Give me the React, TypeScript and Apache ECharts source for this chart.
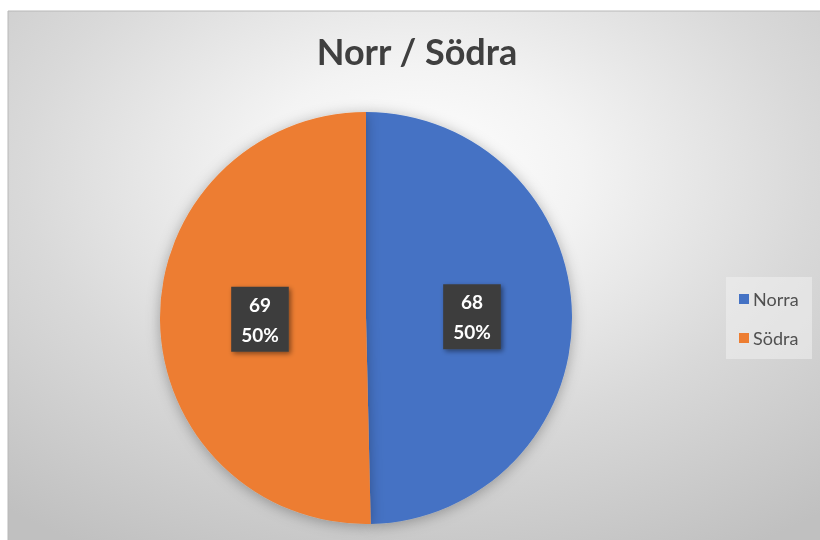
import React, { useEffect, useRef } from "react";
import * as echarts from "echarts";

const categories = ["Norra", "Södra"];
const values = [68, 69];
const colors = ["#4472C4", "#ED7D31"];
const titleText = "Norr / Södra";

export default function App() {
  const ref = useRef<HTMLDivElement>(null);
  useEffect(() => {
    if (!ref.current) return;
    const chart = echarts.init(ref.current, undefined, { renderer: "svg" });
    chart.setOption({
      animation: false,
      graphic: [
        {
          type: "rect",
          z: -10,
          shape: { x: 8, y: 11, width: 820, height: 540 },
          style: {
            fill: new echarts.graphic.RadialGradient(0.5, 0.3, 0.8, [
              { offset: 0, color: "#ffffff" },
              { offset: 0.25, color: "#f3f3f3" },
              { offset: 0.6, color: "#d9d9d9" },
              { offset: 1, color: "#c0c0c0" },
            ]),
            stroke: "#b8b8b8",
            lineWidth: 1,
          },
          silent: true,
        },
        {
          type: "rect",
          z: -5,
          shape: { x: 726, y: 277, width: 86, height: 82 },
          style: { fill: "rgba(240,240,240,0.55)" },
          silent: true,
        },
        {
          type: "text",
          x: 417,
          y: 69,
          style: {
            text: titleText,
            align: "center",
            verticalAlign: "bottom",
            font: "bold 36px Lato",
            fill: "#3f3f3f",
          },
        },
      ],
      legend: {
        orient: "vertical",
        left: 734,
        top: 285,
        itemWidth: 10,
        itemHeight: 10,
        itemGap: 21,
        icon: "rect",
        data: categories,
        textStyle: { color: "#505050", fontSize: 18, fontFamily: "Lato", padding: [0, 0, 0, -1] },
      },
      series: [
        {
          type: "pie",
          center: [366, 318],
          radius: 206,
          startAngle: 90,
          clockwise: true,
          percentPrecision: 0,
          data: categories.map((c, i) => ({
            name: c,
            value: values[i],
            itemStyle: { color: colors[i] },
          })),
          itemStyle: {
            shadowBlur: 14,
            shadowColor: "rgba(0,0,0,0.3)",
            shadowOffsetX: 0,
            shadowOffsetY: 2,
          },
          label: {
            show: true,
            position: "inside",
            formatter: "{c}\n{d}%",
            color: "#ffffff",
            fontFamily: "Lato",
            fontWeight: "bold",
            fontSize: 19,
            lineHeight: 30,
            backgroundColor: "#3d3d3d",
            padding: [3, 10, 2, 10],
            shadowBlur: 5,
            shadowOffsetX: 2,
            shadowOffsetY: 2,
            shadowColor: "rgba(0,0,0,0.45)",
          },
          labelLine: { show: false },
        },
      ],
    });
    return () => chart.dispose();
  }, []);
  return (
    <div
      ref={ref}
      style={{ position: "fixed", left: 0, top: 0, width: 820, height: 540 }}
    />
  );
}
